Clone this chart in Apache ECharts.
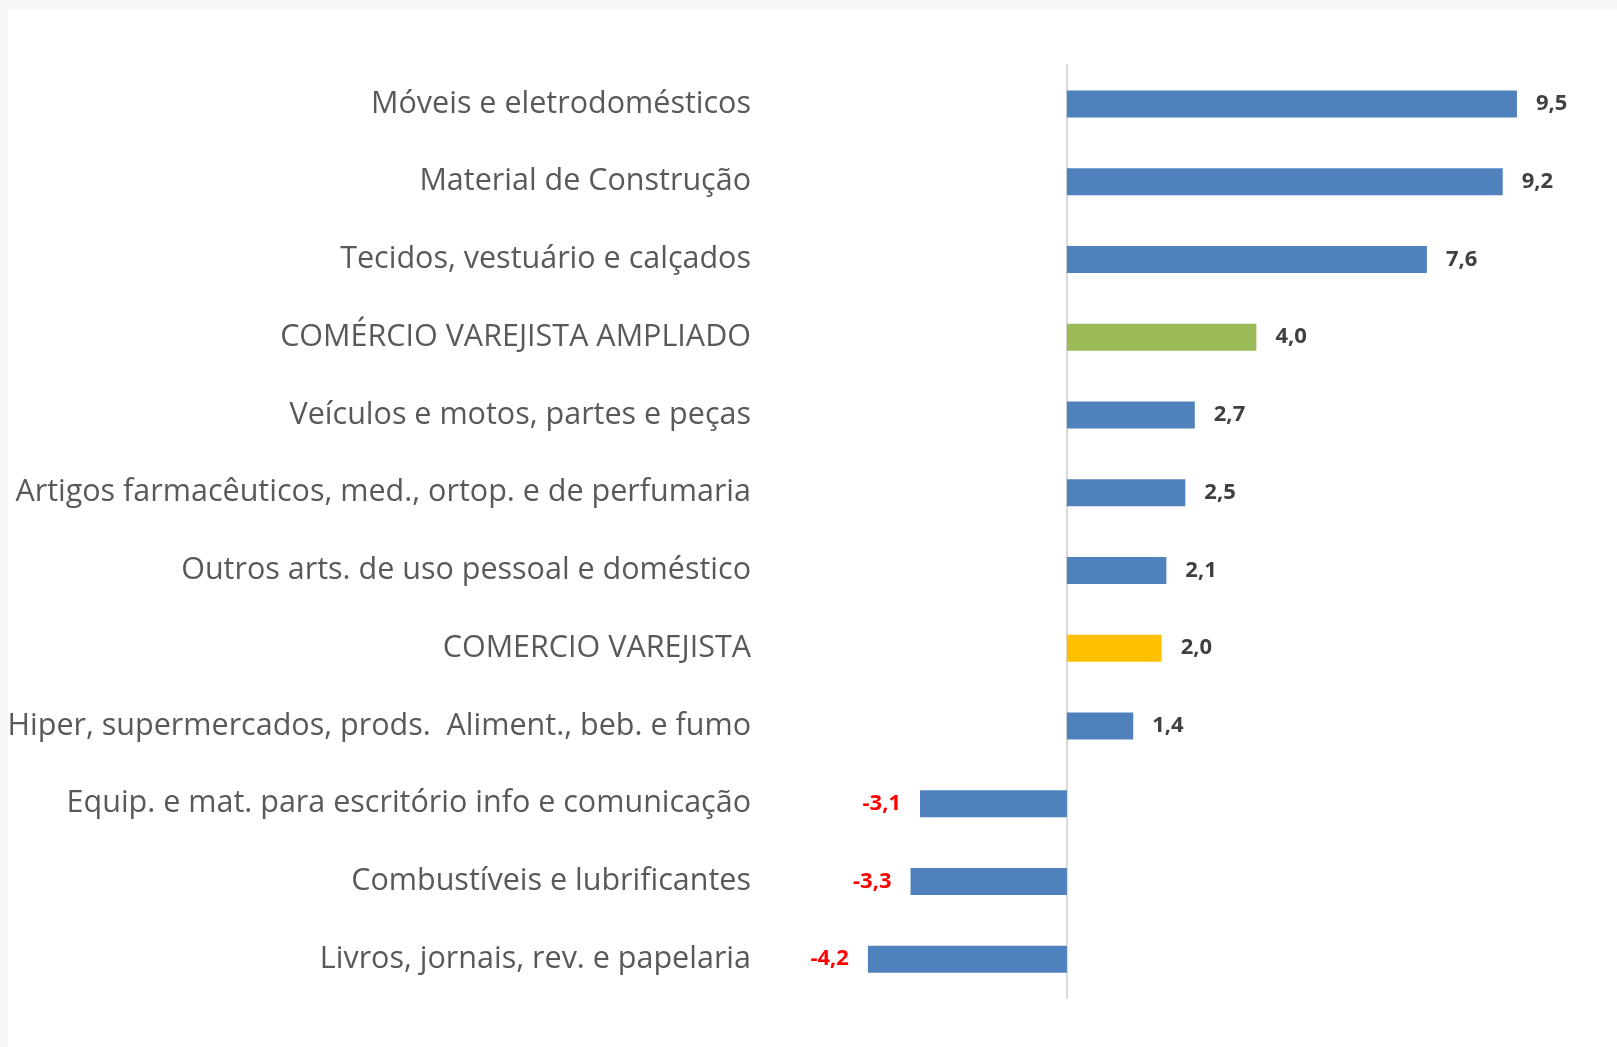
<!DOCTYPE html>
<html>
<head>
<meta charset="utf-8">
<script src="https://cdn.jsdelivr.net/npm/echarts@6/dist/echarts.min.js"></script>
<style>
  html, body { margin: 0; padding: 0; background: #f8f8f8; }
  #main { position: absolute; left: 8px; top: 10px; width: 1609px; height: 1037px; background: #ffffff; }
</style>
</head>
<body>
<div id="main"></div>
<script>
// categories, bottom to top (as the category axis draws them)
var categories = [
    'Livros, jornais, rev. e papelaria',
    'Combustíveis e lubrificantes',
    'Equip. e mat. para escritório info e comunicação',
    'Hiper, supermercados, prods.  Aliment., beb. e fumo',
    'COMERCIO VAREJISTA',
    'Outros arts. de uso pessoal e doméstico',
    'Artigos farmacêuticos, med., ortop. e de perfumaria',
    'Veículos e motos, partes e peças',
    'COMÉRCIO VAREJISTA AMPLIADO',
    'Tecidos, vestuário e calçados',
    'Material de Construção',
    'Móveis e eletrodomésticos'
];
var values = [-4.2, -3.3, -3.1, 1.4, 2.0, 2.1, 2.5, 2.7, 4.0, 7.6, 9.2, 9.5];
var barColors = ['#4f81bd', '#4f81bd', '#4f81bd', '#4f81bd', '#ffc000', '#4f81bd',
                 '#4f81bd', '#4f81bd', '#9bbb59', '#4f81bd', '#4f81bd', '#4f81bd'];

var chart = echarts.init(document.getElementById('main'));

var data = values.map(function (v, i) {
    return {
        value: v,
        itemStyle: { color: barColors[i] },
        label: {
            position: v < 0 ? 'left' : 'right',
            color: v < 0 ? '#ff0000' : '#404040'
        }
    };
});

var option = {
    animation: false,
    grid: { left: 822, right: 29, top: 55, bottom: 49, outerBoundsMode: 'none', containLabel: false },
    xAxis: {
        type: 'value',
        min: -5,
        max: 11,
        show: false
    },
    yAxis: {
        type: 'category',
        data: categories,
        axisLine: { onZero: true, lineStyle: { color: '#d9d9d9', width: 2 } },
        axisTick: { show: false },
        axisLabel: {
            margin: 79,
            color: '#595959',
            fontFamily: 'Open Sans',
            fontSize: 30.5,
            padding: [5, 0, 0, 0]
        }
    },
    series: [{
        type: 'bar',
        data: data,
        barWidth: 27,
        label: {
            show: true,
            distance: 19,
            fontFamily: 'Open Sans',
            fontWeight: 'bold',
            fontSize: 22,
            padding: [4, 0, 0, 0],
            formatter: function (p) { return p.value.toFixed(1).replace('.', ','); }
        }
    }]
};
chart.setOption(option);
</script>
</body>
</html>
